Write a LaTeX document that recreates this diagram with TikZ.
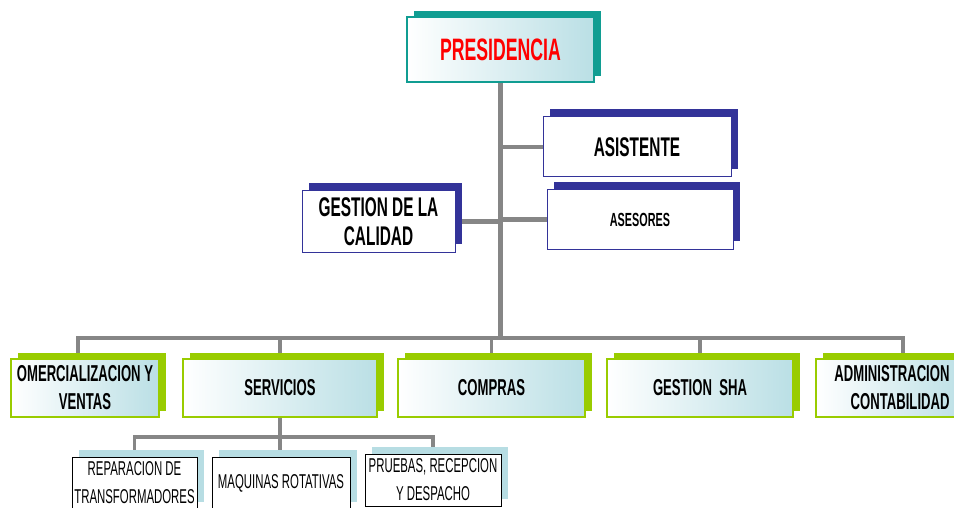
\documentclass[tikz,border=0pt]{standalone}
\usepackage{fontspec}
\setmainfont{Liberation Sans}[FakeStretch=0.57]
\usepackage{tikz}
\usetikzlibrary{positioning,shadows,backgrounds}

\definecolor{presteal}{RGB}{16,157,146}
\definecolor{navy}{RGB}{51,51,153}
\definecolor{lime}{RGB}{153,204,0}
\definecolor{paleblue}{RGB}{183,221,227}
\definecolor{shadeblue}{RGB}{186,223,229}
\definecolor{linkgray}{RGB}{134,134,134}

\tikzset{
  link/.style={draw=linkgray,line width=4.5pt},
  sublink/.style={draw=linkgray,line width=3.5pt},
  presbox/.style={draw=presteal,line width=1.2pt,left color=white,right color=shadeblue,
    minimum width=187pt,minimum height=65pt,text=red,
    general shadow={fill=presteal,shadow xshift=7pt,shadow yshift=6pt},
    font=\fontsize{31}{33}\selectfont\bfseries},
  staffbox/.style={draw=navy,line width=1pt,fill=white,align=center,
    general shadow={fill=navy,shadow xshift=6.5pt,shadow yshift=8pt},
    font=\fontsize{27}{29}\selectfont\bfseries},
  areabox/.style={draw=lime,line width=1.2pt,left color=white,right color=shadeblue,
    minimum width=187pt,minimum height=58pt,align=center,
    general shadow={fill=lime,shadow xshift=7pt,shadow yshift=6pt},
    font=\fontsize{23}{28}\selectfont\bfseries},
  unitbox/.style={draw=black,line width=1pt,fill=white,align=center,
    minimum height=52pt,inner sep=1pt,
    general shadow={fill=paleblue,shadow xshift=6.5pt,shadow yshift=7.5pt},
    font=\fontsize{20}{28}\selectfont},
}

\begin{document}
\begin{tikzpicture}[x=1pt,y=-1pt]
\useasboundingbox (0,0) rectangle (954,508);
\clip (0,0) rectangle (954,508);

% direccion
\node[presbox] (pres) at (500.5,49.5) {PRESIDENCIA};
\node[staffbox,minimum width=188pt,minimum height=60pt] (asis) at (637,147) {ASISTENTE};
\node[staffbox,minimum width=186pt,minimum height=59pt,
  font=\fontsize{19}{20}\selectfont\bfseries] (ases) at (640,219.5) {ASESORES};
\node[staffbox,minimum width=153pt,minimum height=61pt] (calidad) at (378.5,221.5) {GESTION DE LA\\CALIDAD};

% areas
\node[areabox,minimum width=148pt] (comer) at (85,388) {OMERCIALIZACION Y\\VENTAS};
\node[areabox,minimum width=194pt] (serv) at (280,388) {SERVICIOS};
\node[areabox] (comp) at (491.5,388) {COMPRAS};
\node[areabox,minimum width=186pt] (sha) at (700,388) {GESTION\ \ SHA};
\node[areabox,minimum width=152pt,align=right] (admin) at (892,388) {ADMINISTRACION\\CONTABILIDAD};

% servicios
\node[unitbox,minimum width=125pt] (repar) at (134.5,483) {REPARACION DE\\TRANSFORMADORES};
\node[unitbox,minimum width=138pt] (maq) at (281,483) {MAQUINAS ROTATIVAS};
\node[unitbox,minimum width=136pt] (prueb) at (433,480) {PRUEBAS, RECEPCION\\Y DESPACHO};

\coordinate (bus) at (500,338);
\coordinate (subbus) at (280,437);
\coordinate (comerdrop) at ([xshift=-7pt]comer.north);
\coordinate (admindrop) at ([xshift=11pt]admin.north);

\begin{scope}[on background layer]
\draw[link] (pres.south) -- (pres.south |- bus);
\draw[link] (pres.south |- asis.west) -- (asis.west);
\draw[link] (pres.south |- ases.west) -- (ases.west);
\draw[link] (calidad.east) -- (calidad.east -| pres.south);
\draw[link] (comerdrop) |- (bus) -| (admindrop);
\draw[sublink] (serv.north |- bus) -- (serv.north);
\draw[sublink] (comp.north |- bus) -- (comp.north);
\draw[sublink] (sha.north |- bus) -- (sha.north);
\draw[sublink] (serv.south) -- (serv.south |- maq.north);
\draw[sublink] (repar.north) |- (subbus) -| (prueb.north);
\end{scope}
\end{tikzpicture}
\end{document}
